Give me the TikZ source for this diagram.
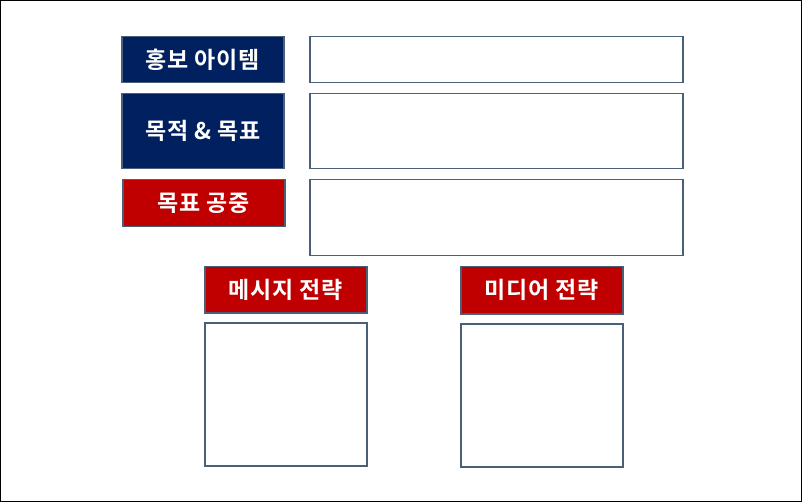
\documentclass[tikz,border=0pt]{standalone}
\usepackage{fontspec}
\newfontfamily\krfont{Noto Sans CJK KR}[BoldFont={* Bold}, LetterSpace=3]
\usetikzlibrary{positioning}
\definecolor{navyfill}{HTML}{002060}
\definecolor{redfill}{HTML}{C00000}
\definecolor{slateline}{HTML}{4A6078}

\begin{document}
\begin{tikzpicture}[
    x=1pt, y=-1pt,
    font=\krfont\bfseries\fontsize{23}{27}\selectfont,
    labelbox/.style={draw=slateline, line width=1.5pt, text=white, anchor=north west, inner sep=0pt, minimum width=162pt},
    navybox/.style={labelbox, fill=navyfill},
    redbox/.style={labelbox, fill=redfill},
    blankbox/.style={draw=slateline, line width=1.5pt, fill=white, anchor=north west, inner sep=0pt}
]
    \useasboundingbox (0,0) rectangle (802,502);
    \draw[black, line width=1pt] (0.5,0.5) rectangle (801.5,501.5);

    % Label boxes
    \node[navybox, minimum height=46pt] (item) at (121,36) {홍보 아이템};
    \node[navybox, minimum height=75pt] (goal) at (121,93) {목적 \& 목표};
    \node[redbox, minimum height=47pt] (public) at (122,179) {목표 공중};
    \node[redbox, minimum height=46pt] (message) at (204,266) {메시지 전략};
    \node[redbox, minimum height=47pt] (media) at (460,266) {미디어 전략};

    % Blank boxes
    \node[blankbox, minimum width=373pt, minimum height=46pt] (itemtext) at (309,36) {};
    \node[blankbox, minimum width=373pt, minimum height=75pt] (goaltext) at (309,93) {};
    \node[blankbox, minimum width=373pt, minimum height=76pt] (publictext) at (309,179) {};
    \node[blankbox, minimum width=162pt, minimum height=143pt] (messagetext) at (204,322) {};
    \node[blankbox, minimum width=162pt, minimum height=143pt] (mediatext) at (460,323) {};
\end{tikzpicture}
\end{document}
